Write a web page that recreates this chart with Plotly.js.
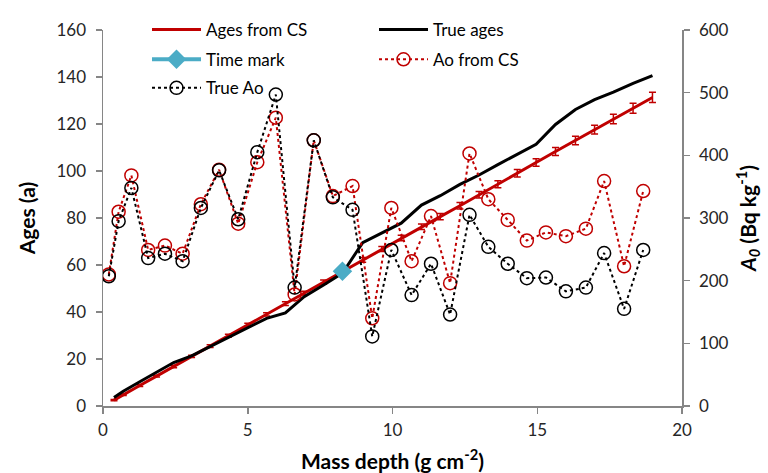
<!DOCTYPE html>
<html>
<head>
<meta charset="utf-8">
<script src="https://cdn.plot.ly/plotly-3.0.1.min.js"></script>
<style>
  html, body { margin: 0; padding: 0; background: #fff; }
  #chart { width: 768px; height: 473px; }
</style>
</head>
<body>
<div id="chart"></div>
<script>
// Layer-bottom depths (g cm-2) where the chronologies are evaluated
const ageDepth = [0.38, 0.70, 1.27, 1.85, 2.44, 3.06, 3.70, 4.33, 5.00, 5.65,
                  6.30, 6.95, 7.62, 8.27, 8.97, 9.63, 10.30, 11.00, 11.65, 12.33,
                  12.99, 13.64, 14.31, 14.96, 15.63, 16.32, 16.98, 17.63, 18.31, 18.98];

// Ages derived from the CS model, with their uncertainty
const agesCS = [2.5, 4.8, 8.7, 12.7, 16.8, 21.1, 25.5, 29.9, 34.5, 39.0,
                43.6, 48.0, 52.7, 57.3, 62.2, 66.8, 71.5, 76.3, 80.6, 85.2,
                89.9, 94.4, 99.0, 103.6, 108.3, 113.0, 117.6, 122.1, 126.7, 131.3];
const agesCSErr = [0.3, 0.3, 0.4, 0.4, 0.5, 0.5, 0.6, 0.6, 0.7, 0.7,
                   0.8, 0.8, 0.9, 0.9, 1.0, 1.1, 1.2, 1.2, 1.3, 1.4,
                   1.4, 1.5, 1.6, 1.6, 1.7, 1.8, 1.9, 2.0, 2.1, 2.2];

// Reference ages
const agesTrue = [3.6, 6.3, 10.3, 14.3, 18.5, 21.3, 25.3, 29.3, 33.5, 37.3,
                  39.6, 46.5, 51.5, 56.5, 69.5, 73.5, 77.8, 85.5, 89.5, 94.3,
                  98.3, 102.7, 107.1, 111.4, 119.8, 126.2, 130.4, 133.6, 137.3, 140.6];

// Time marker
const markDepth = [8.27];
const markAge = [57.3];

// Mid-layer depths for initial activities
const aoDepth = [0.20, 0.54, 0.98, 1.56, 2.14, 2.75, 3.38, 4.01, 4.67, 5.33,
                 5.97, 6.62, 7.28, 7.94, 8.62, 9.30, 9.96, 10.66, 11.33, 11.99,
                 12.66, 13.31, 13.98, 14.64, 15.30, 15.99, 16.68, 17.31, 18.00, 18.66];

// Initial activity A0 (Bq kg-1)
const aoCS = [210, 310, 368, 249, 256, 243, 322, 377, 291, 389,
              460, 178, 424, 335, 351, 140, 316, 231, 303, 196,
              403, 330, 297, 264, 277, 271, 283, 359, 223, 343];
const aoTrue = [207, 295, 348, 236, 243, 231, 316, 376, 298, 405,
                497, 189, 424, 333, 313, 111, 249, 177, 227, 146,
                305, 254, 227, 204, 205, 183, 189, 244, 155, 249];

const RED = '#C00000';
const BLACK = '#000000';
const CYAN = '#4BACC6';
const AXIS = '#868686';
const FONT = 'Lato, "Open Sans", sans-serif';

const traces = [
  {
    name: 'Ages from CS', x: ageDepth, y: agesCS, type: 'scatter', mode: 'lines',
    line: { color: RED, width: 3 },
    error_y: { type: 'data', array: agesCSErr, visible: true, color: RED, thickness: 1.5, width: 3.5 },
    yaxis: 'y', legend: 'legend'
  },
  {
    name: 'True ages', x: ageDepth, y: agesTrue, type: 'scatter', mode: 'lines',
    line: { color: BLACK, width: 3 }, yaxis: 'y', legend: 'legend'
  },
  {
    name: 'Time mark', x: markDepth, y: markAge, type: 'scatter', mode: 'lines+markers',
    line: { color: CYAN, width: 4 },
    marker: { symbol: 'diamond', size: 15, color: CYAN }, yaxis: 'y', legend: 'legend2'
  },
  {
    name: 'Ao from CS', x: aoDepth, y: aoCS, type: 'scatter', mode: 'lines+markers',
    line: { color: RED, width: 2, dash: 'dot' },
    marker: { symbol: 'circle-open', size: 13, color: RED, line: { width: 1.5, color: RED } },
    yaxis: 'y2', legend: 'legend2'
  },
  {
    name: 'True Ao', x: aoDepth, y: aoTrue, type: 'scatter', mode: 'lines+markers',
    line: { color: BLACK, width: 2, dash: 'dot' },
    marker: { symbol: 'circle-open', size: 13, color: BLACK, line: { width: 1.5, color: BLACK } },
    yaxis: 'y2', legend: 'legend3'
  }
];

const tickFont = { family: FONT, size: 17, color: '#262626' };
const titleFont = { family: FONT, size: 21, color: '#000' };

// One legend per row, two entries per row
function legendRow(yPaper) {
  return {
    orientation: 'h', x: 0.076, y: yPaper, xanchor: 'left', yanchor: 'middle',
    font: { family: FONT, size: 17, color: '#000' },
    bgcolor: 'rgba(0,0,0,0)', entrywidth: 163, entrywidthmode: 'pixels',
    itemwidth: 49, traceorder: 'normal'
  };
}

const layout = {
  width: 768, height: 473,
  margin: { l: 103, r: 86, t: 25, b: 67 },
  paper_bgcolor: '#fff', plot_bgcolor: '#fff',
  showlegend: true,
  legend: legendRow(1.0),
  legend2: legendRow(0.921),
  legend3: legendRow(0.845),
  xaxis: {
    range: [0, 20], dtick: 5, tick0: 0,
    showgrid: false, zeroline: false,
    showline: true, linecolor: AXIS, linewidth: 1.5,
    ticks: 'outside', ticklen: 6, tickcolor: AXIS, tickwidth: 1.5,
    ticklabelstandoff: 2,
    tickfont: tickFont,
    title: { text: '<b>Mass depth (g cm<sup>-2</sup>)</b>', font: titleFont, standoff: 18 }
  },
  yaxis: {
    range: [0, 160], dtick: 20, tick0: 0,
    showgrid: false, zeroline: false,
    showline: true, linecolor: AXIS, linewidth: 1.5,
    ticks: 'outside', ticklen: 6, tickcolor: AXIS, tickwidth: 1.5,
    ticklabelstandoff: 6,
    tickfont: tickFont,
    title: { text: '<b>Ages (a)</b>', font: titleFont, standoff: 15 }
  },
  yaxis2: {
    range: [0, 600], dtick: 100, tick0: 0,
    overlaying: 'y', side: 'right',
    showgrid: false, zeroline: false,
    showline: true, linecolor: AXIS, linewidth: 1.5,
    ticks: 'outside', ticklen: 6, tickcolor: AXIS, tickwidth: 1.5,
    ticklabelstandoff: 6,
    tickfont: tickFont,
    title: { text: '<b><i>A</i><sub><i>0</i></sub> (Bq kg<sup>-1</sup>)</b>', font: titleFont, standoff: 13 }
  }
};

Plotly.newPlot('chart', traces, layout, { displayModeBar: false, staticPlot: true });
</script>
</body>
</html>
